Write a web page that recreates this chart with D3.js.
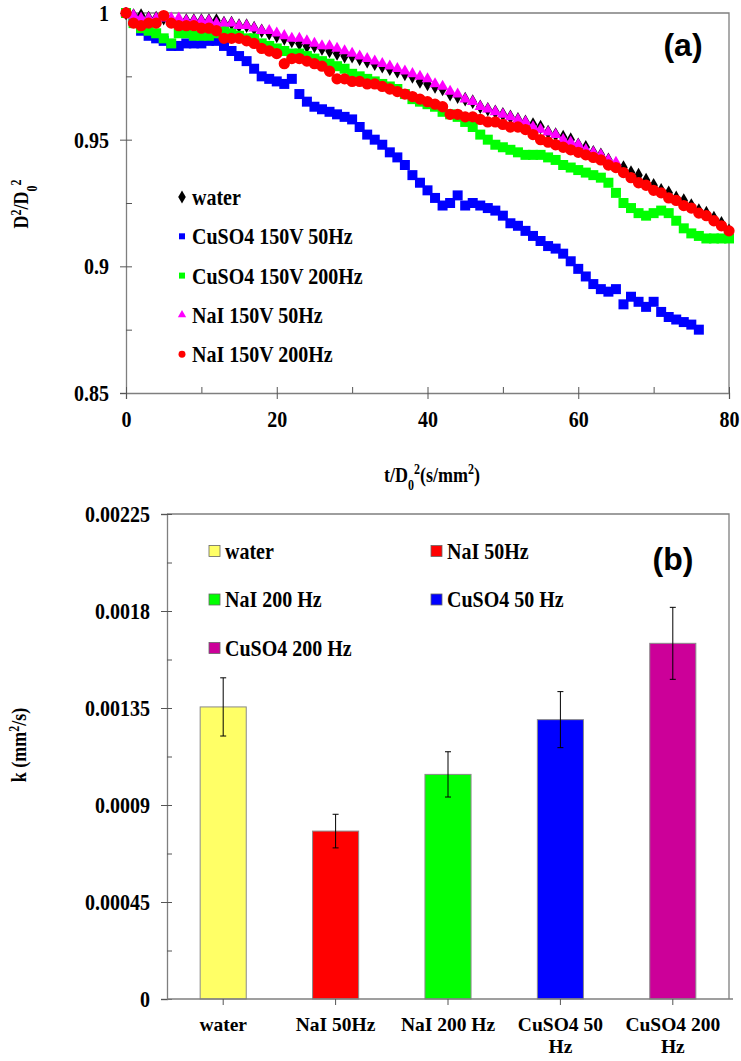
<!DOCTYPE html>
<html>
<head>
<meta charset="utf-8">
<script src="https://cdn.jsdelivr.net/npm/d3@7"></script>
<style>
  body { margin: 0; background: #fff; }
  svg text { font-family: "Liberation Serif", "Times New Roman", serif; font-weight: bold; fill: #000; }
  svg text.panel { font-family: "Liberation Sans", Arial, sans-serif; }
  svg text.tall { transform: scaleY(1.15); transform-box: fill-box; transform-origin: 50% 50%; }
</style>
</head>
<body>
<svg id="fig" width="741" height="1061"></svg>
<script>
// ---------- (a) droplet regression D^2/D0^2 versus t/D0^2 (one value per unit of t/D0^2, starting at 0) ----------
const seriesNames = ["water", "CuSO4 150V 50Hz", "CuSO4 150V 200Hz", "NaI 150V 50Hz", "NaI 150V 200Hz"];
const seriesColors = ["#000000", "#0000FF", "#00FF00", "#FF00FF", "#FF0000"];

const water = [1.000, 0.999, 0.999, 0.998, 0.998, 0.998, 0.997, 0.997, 0.997, 0.997,
  0.997, 0.997, 0.997, 0.996, 0.996, 0.995, 0.995, 0.994, 0.993, 0.992,
  0.991, 0.990, 0.989, 0.988, 0.987, 0.987, 0.986, 0.985, 0.984, 0.983,
  0.983, 0.982, 0.981, 0.980, 0.979, 0.978, 0.977, 0.976, 0.975, 0.973,
  0.972, 0.971, 0.970, 0.968, 0.967, 0.966, 0.965, 0.963, 0.962, 0.961,
  0.960, 0.959, 0.958, 0.957, 0.956, 0.955, 0.953, 0.952, 0.951, 0.950,
  0.948, 0.947, 0.945, 0.944, 0.942, 0.940, 0.939, 0.937, 0.936, 0.934,
  0.932, 0.930, 0.929, 0.927, 0.926, 0.924, 0.922, 0.921, 0.919, 0.917, 0.914];

const cuso4_50 = [1.000, 0.997, 0.993, 0.991, 0.990, 0.989, 0.987, 0.987, 0.988, 0.988,
  0.988, 0.989, 0.989, 0.987, 0.985, 0.983, 0.981, 0.978, 0.975, 0.974,
  0.973, 0.972, 0.974, 0.968, 0.965, 0.963, 0.962, 0.961, 0.960, 0.959,
  0.958, 0.955, 0.952, 0.950, 0.948, 0.945, 0.943, 0.940, 0.936, 0.933,
  0.930, 0.927, 0.924, 0.925, 0.928, 0.924, 0.925, 0.924, 0.923, 0.922,
  0.920, 0.917, 0.916, 0.914, 0.912, 0.910, 0.908, 0.907, 0.905, 0.902,
  0.899, 0.896, 0.893, 0.891, 0.890, 0.891, 0.885, 0.888, 0.886, 0.884,
  0.886, 0.882, 0.880, 0.879, 0.878, 0.877, 0.875];

const cuso4_200 = [1.000, 0.996, 0.994, 0.993, 0.992, 0.990, 0.988, 0.992, 0.992, 0.991,
  0.991, 0.991, 0.992, 0.993, 0.992, 0.991, 0.990, 0.990, 0.988, 0.987,
  0.986, 0.985, 0.984, 0.984, 0.983, 0.982, 0.981, 0.980, 0.979, 0.978,
  0.976, 0.975, 0.974, 0.973, 0.972, 0.971, 0.970, 0.968, 0.966, 0.965,
  0.964, 0.963, 0.961, 0.960, 0.959, 0.957, 0.955, 0.952, 0.950, 0.948,
  0.947, 0.946, 0.945, 0.944, 0.944, 0.944, 0.943, 0.942, 0.940, 0.939,
  0.938, 0.937, 0.936, 0.935, 0.933, 0.929, 0.925, 0.923, 0.921, 0.920,
  0.921, 0.922, 0.921, 0.918, 0.915, 0.913, 0.912, 0.911, 0.911, 0.911, 0.911];

const nai_50 = [1.000, 0.999, 0.998, 0.998, 0.998, 0.998, 0.998, 0.998, 0.997, 0.997,
  0.997, 0.997, 0.996, 0.996, 0.996, 0.995, 0.995, 0.994, 0.993, 0.993,
  0.992, 0.991, 0.990, 0.990, 0.989, 0.988, 0.987, 0.987, 0.986, 0.985,
  0.984, 0.983, 0.982, 0.981, 0.980, 0.979, 0.978, 0.977, 0.976, 0.975,
  0.974, 0.972, 0.971, 0.969, 0.968, 0.966, 0.965, 0.963, 0.962, 0.961,
  0.960, 0.959, 0.958, 0.957, 0.955, 0.954, 0.953, 0.952, 0.950, 0.949,
  0.948, 0.946, 0.945, 0.944, 0.942, 0.941];

const nai_200 = [1.000, 0.996, 0.995, 0.996, 0.996, 0.999, 0.996, 0.995, 0.995, 0.995,
  0.994, 0.994, 0.993, 0.990, 0.990, 0.990, 0.989, 0.988, 0.986, 0.985,
  0.984, 0.980, 0.982, 0.982, 0.981, 0.980, 0.979, 0.977, 0.974, 0.974,
  0.973, 0.973, 0.972, 0.972, 0.971, 0.970, 0.969, 0.968, 0.967, 0.966,
  0.965, 0.964, 0.963, 0.960, 0.960, 0.959, 0.959, 0.958, 0.957, 0.957,
  0.956, 0.955, 0.955, 0.954, 0.952, 0.950, 0.949, 0.948, 0.947, 0.946,
  0.945, 0.944, 0.943, 0.942, 0.940, 0.939, 0.937, 0.935, 0.933, 0.932,
  0.930, 0.929, 0.927, 0.926, 0.924, 0.923, 0.921, 0.920, 0.918, 0.916, 0.914];

const seriesValues = [water, cuso4_50, cuso4_200, nai_50, nai_200];

const xTickValues = [0, 20, 40, 60, 80];
const xTickLabels = ["0", "20", "40", "60", "80"];
const xMinorTicks = [10, 30, 50, 70];
const yTickValues = [0.85, 0.9, 0.95, 1];
const yTickLabels = ["0.85", "0.9", "0.95", "1"];
const yMinorTicks = [0.875, 0.925, 0.975];

// ---------- (b) evaporation constant k ----------
const kCategories = ["water", "NaI 50Hz", "NaI 200 Hz", "CuSO4 50 Hz", "CuSO4 200 Hz"];
const kCategoryLines = [["water"], ["NaI 50Hz"], ["NaI 200 Hz"], ["CuSO4 50", "Hz"], ["CuSO4 200", "Hz"]];
const kValues = [0.001355, 0.000779, 0.001042, 0.001296, 0.00165];
const kErrors = [0.000135, 0.000078, 0.000105, 0.000130, 0.000167];
const kColors = ["#FFFF66", "#FF0000", "#00FF00", "#0000FF", "#CC0099"];
const kTickValues = [0, 0.00045, 0.0009, 0.00135, 0.0018, 0.00225];
const kTickLabels = ["0", "0.00045", "0.0009", "0.00135", "0.0018", "0.00225"];
const kMinorTicks = [0.000225, 0.000675, 0.001125, 0.001575, 0.002025];

const svg = d3.select("#fig");
const AXIS = "#7f7f7f";

function styleAxis(g) {
  g.select(".domain").attr("stroke", AXIS).attr("stroke-width", 1.3);
  g.selectAll(".tick line").attr("stroke", "#555").attr("stroke-width", 1);
  g.selectAll(".tick text").attr("font-size", 20).attr("fill", "#000").attr("class", "tall")
    .attr("font-family", '"Liberation Serif", "Times New Roman", serif').attr("font-weight", "bold");
}

// ===== Panel (a) =====
const x = d3.scaleLinear().domain([0, 80]).range([126, 729]);
const y = d3.scaleLinear().domain([0.85, 1]).range([393, 13]);

const pa = svg.append("g");
// frame (top and right)
pa.append("path")
  .attr("d", `M${x(0)},${y(1)}H${x(80)}V${y(0.85)}`)
  .attr("fill", "none").attr("stroke", AXIS).attr("stroke-width", 1.3);

// y axis: labelled outward ticks plus inward ticks (major + minor)
pa.append("g").attr("transform", `translate(${x(0)},0)`)
  .call(d3.axisLeft(y).tickValues(yTickValues).tickSize(6).tickPadding(11)
    .tickFormat((d, i) => yTickLabels[i]))
  .call(styleAxis);
pa.append("g").attr("transform", `translate(${x(0)},0)`)
  .call(d3.axisLeft(y).tickValues(yTickValues.concat(yMinorTicks)).tickSize(-6).tickFormat(""))
  .call(g => g.select(".domain").remove())
  .call(styleAxis);

// x axis
pa.append("g").attr("transform", `translate(0,${y(0.85)})`)
  .call(d3.axisBottom(x).tickValues(xTickValues).tickSize(6).tickPadding(13)
    .tickFormat((d, i) => xTickLabels[i]))
  .call(styleAxis);
pa.append("g").attr("transform", `translate(0,${y(0.85)})`)
  .call(d3.axisBottom(x).tickValues(xTickValues.concat(xMinorTicks)).tickSize(-6).tickFormat(""))
  .call(g => g.select(".domain").remove())
  .call(styleAxis);

// markers for each series
const symbolTypes = [d3.symbolDiamond, d3.symbolSquare, d3.symbolSquare, d3.symbolTriangle, d3.symbolCircle];
const symbolSizes = [62, 100, 100, 58, 100];
pa.append("clipPath").attr("id", "clipA").append("rect")
  .attr("x", x(0) - 6).attr("y", y(1) - 6).attr("width", x(80) - x(0) + 12).attr("height", y(0.85) - y(1) + 6);
seriesValues.forEach((vals, s) => {
  const sym = d3.symbol().type(symbolTypes[s]).size(symbolSizes[s]);
  pa.append("g").attr("clip-path", "url(#clipA)")
    .selectAll("path").data(vals).join("path")
    .attr("transform", (v, i) => `translate(${x(i)},${y(v)})`)
    .attr("d", sym)
    .attr("fill", seriesColors[s]);
});

// legend (a)
const legA = pa.append("g");
const legendSizes = [50, 36, 36, 30, 38];
seriesNames.forEach((name, s) => {
  const ly = 197 + s * 39.3;
  legA.append("path")
    .attr("transform", `translate(182,${ly})`)
    .attr("d", d3.symbol().type(symbolTypes[s]).size(legendSizes[s]))
    .attr("fill", seriesColors[s]);
  legA.append("text").attr("class", "tall").attr("x", 192).attr("y", ly + 7).attr("font-size", 20).text(name);
});

// panel letter and axis titles (a)
pa.append("text").attr("class", "panel").attr("x", 683).attr("y", 56)
  .attr("text-anchor", "middle").attr("font-size", 32).text("(a)");

const ylabA = pa.append("text").attr("transform", "translate(28,204) rotate(-90) scale(1,1.15)")
  .attr("text-anchor", "middle").attr("font-size", 18);
ylabA.append("tspan").text("D");
ylabA.append("tspan").attr("baseline-shift", "super").attr("font-size", 12).text("2");
ylabA.append("tspan").text("/D");
ylabA.append("tspan").attr("baseline-shift", "sub").attr("font-size", 12).text("0");
ylabA.append("tspan").attr("baseline-shift", "super").attr("font-size", 12).text("2");

const xlabA = pa.append("text").attr("class", "tall").attr("x", 432).attr("y", 481)
  .attr("text-anchor", "middle").attr("font-size", 18);
xlabA.append("tspan").text("t/D");
xlabA.append("tspan").attr("baseline-shift", "sub").attr("font-size", 12).text("0");
xlabA.append("tspan").attr("baseline-shift", "super").attr("font-size", 12).text("2");
xlabA.append("tspan").text("(s/mm");
xlabA.append("tspan").attr("baseline-shift", "super").attr("font-size", 12).text("2");
xlabA.append("tspan").text(")");

// ===== Panel (b) =====
const xb = d3.scaleBand().domain(kCategories).range([167, 729]).paddingInner(0.59).paddingOuter(0.295);
const yb = d3.scaleLinear().domain([0, 0.00225]).range([999, 514]);

const pb = svg.append("g");
pb.append("path")
  .attr("d", `M167,${yb(0.00225)}H729V${yb(0)}`)
  .attr("fill", "none").attr("stroke", AXIS).attr("stroke-width", 1.3);

pb.append("g").attr("transform", "translate(167,0)")
  .call(d3.axisLeft(yb).tickValues(kTickValues).tickSize(6).tickPadding(11)
    .tickFormat((d, i) => kTickLabels[i]))
  .call(styleAxis);
pb.append("g").attr("transform", "translate(167,0)")
  .call(d3.axisLeft(yb).tickValues(kTickValues.concat(kMinorTicks)).tickSize(-5).tickFormat(""))
  .call(g => g.select(".domain").remove())
  .call(styleAxis);

// bars
pb.selectAll("rect.bar").data(kValues).join("rect").attr("class", "bar")
  .attr("x", (v, i) => xb(kCategories[i]))
  .attr("y", v => yb(v))
  .attr("width", xb.bandwidth())
  .attr("height", v => yb(0) - yb(v))
  .attr("fill", (v, i) => kColors[i])
  .attr("stroke", "#8a8a8a").attr("stroke-width", 1);

// x axis with ticks at the bar centres
const xAxisB = pb.append("g").attr("transform", `translate(0,${yb(0)})`);
xAxisB.append("line").attr("x1", 167).attr("x2", 733).attr("stroke", AXIS).attr("stroke-width", 1.3);
xAxisB.selectAll("line.tk").data(kCategories).join("line").attr("class", "tk")
  .attr("x1", d => xb(d) + xb.bandwidth() / 2).attr("x2", d => xb(d) + xb.bandwidth() / 2)
  .attr("y1", 0).attr("y2", 6).attr("stroke", "#555");
kCategoryLines.forEach((lines, i) => {
  const cx = xb(kCategories[i]) + xb.bandwidth() / 2;
  lines.forEach((ln, j) => {
    xAxisB.append("text").attr("x", cx).attr("y", 32 + j * 22)
      .attr("text-anchor", "middle").attr("font-size", 19.5).text(ln);
  });
});

// error bars
kValues.forEach((v, i) => {
  const cx = xb(kCategories[i]) + xb.bandwidth() / 2;
  const e = kErrors[i];
  const g = pb.append("g").attr("stroke", "#000").attr("stroke-width", 1);
  g.append("line").attr("x1", cx).attr("x2", cx).attr("y1", yb(v + e)).attr("y2", yb(v - e));
  g.append("line").attr("x1", cx - 3).attr("x2", cx + 3).attr("y1", yb(v + e)).attr("y2", yb(v + e));
  g.append("line").attr("x1", cx - 3).attr("x2", cx + 3).attr("y1", yb(v - e)).attr("y2", yb(v - e));
});

// legend (b): two columns, filled row by row
const legB = pb.append("g");
kCategories.forEach((name, i) => {
  const col = i % 2, row = Math.floor(i / 2);
  const lx = col === 0 ? 209 : 431;
  const ly = 551 + row * 48.5;
  legB.append("rect").attr("x", lx).attr("y", ly - 5.5).attr("width", 11).attr("height", 11)
    .attr("fill", kColors[i]).attr("stroke", "#666").attr("stroke-width", 0.8);
  legB.append("text").attr("class", "tall").attr("x", lx + 16).attr("y", ly + 7).attr("font-size", 20).text(name);
});

pb.append("text").attr("class", "panel").attr("x", 673).attr("y", 570)
  .attr("text-anchor", "middle").attr("font-size", 32).text("(b)");

const ylabB = pb.append("text").attr("transform", "translate(26,745) rotate(-90) scale(1,1.15)")
  .attr("text-anchor", "middle").attr("font-size", 18);
ylabB.append("tspan").text("k  (mm");
ylabB.append("tspan").attr("baseline-shift", "super").attr("font-size", 12).text("2");
ylabB.append("tspan").text("/s)");
</script>
</body>
</html>
